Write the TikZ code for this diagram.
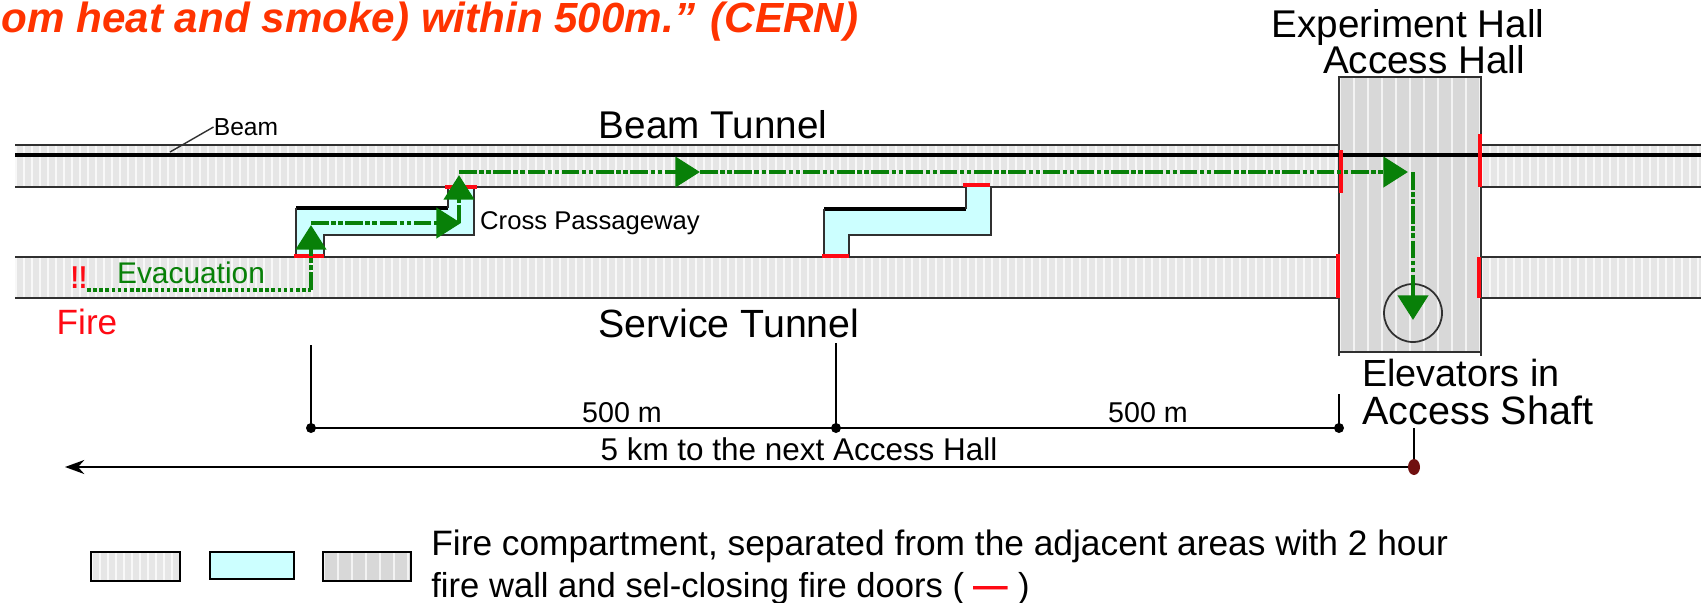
\documentclass[tikz,border=0pt]{standalone}
\usepackage{fontspec}
\usepackage{xcolor}
\setmainfont{Liberation Sans}
\usetikzlibrary{arrows.meta}
\definecolor{doorred}{HTML}{FF0A14}
\definecolor{routegreen}{HTML}{088008}
\definecolor{titlered}{HTML}{FF3300}
\definecolor{passcyan}{HTML}{CCFFFF}
\definecolor{tunnelgrey}{HTML}{E6E6E6}
\definecolor{hallgrey}{HTML}{D8D8D8}
\definecolor{shaftred}{HTML}{701010}
\definecolor{wallgrey}{HTML}{303030}
\newcommand{\stripes}[6]{
\fill [#6] (#1,-#3) rectangle (#2,-#4);
\pgfmathsetmacro{\nextx}{#1+#5}
\foreach \x in {#1,\nextx,...,#2} {
\fill [white!70!#6] (\x,-#3) rectangle ({min(\x+2,#2)},-#4);
}
}
\newcommand{\fs}[1]{\fontsize{#1}{#1}\selectfont}
\begin{document}
\begin{tikzpicture}[x=0.02cm,y=0.02cm]
\tikzstyle{every node}+=[inner sep=0pt]
\tikzstyle{wall}=[wallgrey, line width=1.2pt]
\tikzstyle{thickwall}=[black, line width=2.4pt]
\tikzstyle{door}=[doorred, line width=2.4pt]
\tikzstyle{route}=[routegreen, line width=2.6pt, dash pattern=on 10pt off 1.5pt on 2.5pt off 1.5pt on 2.5pt off 1.5pt]
\tikzstyle{routehead}=[-{Triangle[length=14pt,width=17pt]}]
\tikzstyle{dim}=[black, line width=1pt]
\tikzstyle{legendbox}=[black, line width=1.6pt]
\useasboundingbox (0,0) rectangle (1701,-602);
\stripes{15}{1339}{145}{187}{8}{tunnelgrey}
\stripes{1481}{1701}{145}{187}{8}{tunnelgrey}
\stripes{15}{1339}{257}{298}{8}{tunnelgrey}
\stripes{1481}{1701}{257}{298}{8}{tunnelgrey}
\stripes{1339}{1481}{77}{352}{14}{hallgrey}
\draw [wall] (15,-145) -- (1339,-145);
\draw [wall] (1481,-145) -- (1701,-145);
\draw [wall] (15,-187) -- (1339,-187);
\draw [wall] (1481,-187) -- (1701,-187);
\draw [wall] (15,-257) -- (1339,-257);
\draw [wall] (1481,-257) -- (1701,-257);
\draw [wall] (15,-298) -- (1339,-298);
\draw [wall] (1481,-298) -- (1701,-298);
\draw [wall] (1339,-356) -- (1339,-77) -- (1481,-77) -- (1481,-356);
\draw [wall] (1339,-352) -- (1481,-352);
\draw [thickwall] (15,-155) -- (1701,-155);
\fill [passcyan] (296,-257) -- (296,-208) -- (448,-208) -- (448,-187) -- (474,-187) -- (474,-235) -- (324,-235) -- (324,-257) -- cycle;
\draw [thickwall] (296,-208) -- (448,-208);
\draw [wall] (296,-257) -- (296,-208) (448,-208) -- (448,-187) (474,-187) -- (474,-235) -- (324,-235) -- (324,-257);
\fill [passcyan] (824,-257) -- (824,-209) -- (966,-209) -- (966,-187) -- (991,-187) -- (991,-235) -- (849,-235) -- (849,-257) -- cycle;
\draw [thickwall] (824,-209) -- (966,-209);
\draw [wall] (824,-257) -- (824,-209) (966,-209) -- (966,-187) (991,-187) -- (991,-235) -- (849,-235) -- (849,-257);
\draw [door] (294,-256) -- (324,-256);
\draw [door] (445,-187) -- (477,-187);
\draw [door] (822,-256) -- (849,-256);
\draw [door] (963,-185) -- (990,-185);
\draw [door] (1341,-150) -- (1341,-193);
\draw [door] (1480,-134) -- (1480,-187);
\draw [door] (1338,-254) -- (1338,-298);
\draw [door] (1479,-257) -- (1479,-298);
\node [circle, draw=wallgrey, line width=1pt, minimum size=1.16cm] (elevator) at (1413,-313) {};
\coordinate (firestart) at (87,-290);
\coordinate (firecorner) at (311,-290);
\coordinate (passageA) at (311,-225);
\coordinate (passageB) at (461,-223);
\coordinate (passageC) at (459,-223);
\coordinate (passageD) at (459,-175);
\coordinate (beamA) at (459,-172);
\coordinate (beamB) at (700,-172);
\coordinate (beamC) at (1408,-172);
\coordinate (hallcorner) at (1413,-172);
\coordinate (shaftend) at (1413,-320);
\draw [routegreen, line width=1.8pt, dash pattern=on 2pt off 1.5pt] (firestart) -- (firecorner);
\draw [route, routehead] (firecorner) -- (passageA);
\draw [route, routehead] (311,-223) -- (passageB);
\draw [route, routehead] (passageC) -- (passageD);
\draw [route, routehead] (beamA) -- (beamB);
\draw [route, routehead] (beamB) -- (beamC);
\draw [route] (hallcorner) -- (1413,-300);
\draw [route, routehead] (1413,-290) -- (shaftend);
\coordinate (tickA) at (311,-345);
\coordinate (dotA) at (311,-428);
\coordinate (tickB) at (836,-343);
\coordinate (dotB) at (836,-428);
\coordinate (tickC) at (1339,-394);
\coordinate (dotC) at (1339,-428);
\coordinate (tickD) at (1414,-428);
\coordinate (dotD) at (1414,-467);
\coordinate (nextaccess) at (65,-467);
\draw [dim] (tickA) -- (dotA);
\draw [dim] (tickB) -- (dotB);
\draw [dim] (tickC) -- (dotC);
\draw [dim] (tickD) -- (dotD);
\draw [dim] (dotA) -- (dotB);
\draw [dim] (dotB) -- (dotC);
\draw [dim, -{Stealth[length=11pt,width=8pt]}] (dotD) -- (nextaccess);
\fill [black] (dotA) circle (5);
\fill [black] (dotB) circle (5);
\fill [black] (dotC) circle (5);
\fill [shaftred] (dotD) ellipse (6 and 8);
\draw (430,-22) node (title) {\fs{24}\color{titlered}\bfseries\itshape om heat and smoke) within 500m.” (CERN)};
\draw (1408,-27.5) node (hallname) {\fs{22}Experiment Hall};
\draw (1424,-59.5) node (accesshall) {\fs{22}Access Hall};
\draw (246,-127) node (beamlabel) {\fs{14}Beam};
\coordinate (beamfoot) at (170,-152);
\draw [wallgrey, line width=0.8pt] (beamlabel.west) -- (beamfoot);
\draw (713,-125) node (beamtunnel) {\fs{22}Beam Tunnel};
\draw (590,-223) node (crosspass) {\fs{14.6}Cross Passageway};
\draw (191,-273) node (evacuation) {\fs{17}\color{routegreen}Evacuation};
\draw (79,-278) node (bang) {\fs{18}\color{doorred}\scalebox{0.8}[1]{\bfseries !!}};
\draw (87,-322) node (fire) {\fs{20}\color{doorred}Fire};
\draw (729,-323) node (servicetunnel) {\fs{22.4}Service Tunnel};
\draw (622,-413) node (distA) {\fs{16.3}500 m};
\draw (1148,-413) node (distB) {\fs{16.3}500 m};
\draw (799,-449) node (nexthall) {\fs{17.9}5 km to the next Access Hall};
\draw (1362,-373) node [anchor=west] (elevatorsA) {\fs{21.5}Elevators in};
\draw (1362,-410) node [anchor=west] (elevatorsB) {\fs{22.5}Access Shaft};
\stripes{91}{180}{552}{581}{8}{tunnelgrey}
\draw [legendbox] (91,-552) rectangle (180,-581);
\draw [legendbox, fill=passcyan] (210,-552) rectangle (294,-579);
\stripes{323}{411}{552}{581}{14}{hallgrey}
\draw [legendbox] (323,-552) rectangle (411,-581);
\draw (431,-546) node [anchor=west] (legendA) {\fs{20.1}Fire compartment, separated from the adjacent areas with 2 hour};
\draw (431,-589) node [anchor=west] (legendB) {\fs{19.7}fire wall and sel-closing fire doors ( \textcolor{doorred}{\bfseries —} )};
\end{tikzpicture}
\end{document}
